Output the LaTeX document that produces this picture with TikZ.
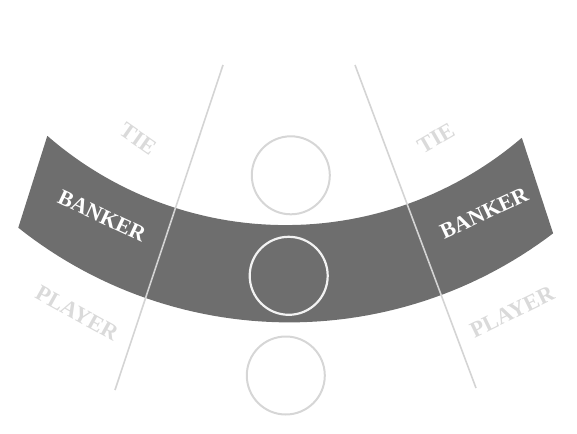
\documentclass[tikz,border=0pt]{standalone}
\usepackage{fontspec}
\setmainfont{Liberation Serif}
\begin{document}
\begin{tikzpicture}[x=1pt,y=-1pt,
  divider/.style={draw=divline,line width=1.6pt},
  spot/.style={circle,draw=spotline,line width=2pt,minimum size=78pt,inner sep=0pt},
  spotw/.style={circle,draw=spotwhite,line width=2.2pt,minimum size=78pt,inner sep=0pt},
  bank/.style={text=white,font=\fontsize{22}{25}\selectfont\bfseries},
  soft/.style={text=softtext,font=\fontsize{22.5}{25}\selectfont\bfseries}]
\definecolor{band}{HTML}{6E6E6E}
\definecolor{divline}{HTML}{D4D4D4}
\definecolor{spotline}{HTML}{D6D6D6}
\definecolor{spotwhite}{HTML}{F2F2F2}
\definecolor{softtext}{HTML}{DADADA}
\useasboundingbox (0,0) rectangle (577,433);
% band
\fill[band]
  plot[domain=131.05:49.42,samples=60] ({285.7+363*cos(\x)},{-137.9+363*sin(\x)})
  -- (553,233)
  -- plot[domain=52.68:128.51,samples=60] ({289.3+435.3*cos(\x)},{-112.9+435.3*sin(\x)})
  -- cycle;
% dividers
\coordinate (l1) at (223,65);
\coordinate (l2) at (115,390);
\coordinate (r1) at (355,65);
\coordinate (r2) at (476,388);
\draw[divider] (l1) -- (l2);
\draw[divider] (r1) -- (r2);
% circles
\node[spot] (ctop) at (290.8,175.3) {};
\node[spotw] (cmid) at (288.7,275.8) {};
\node[spot] (cbot) at (285.8,375.5) {};
% labels
\node[bank,rotate=-25] (bl) at (102,216) {BANKER};
\node[bank,rotate=25] (br) at (484,213) {BANKER};
\node[soft,rotate=-35] (tl) at (138,139) {TIE};
\node[soft,rotate=30] (tr) at (436,138) {TIE};
\node[soft,rotate=-29] (pl) at (77,313) {PLAYER};
\node[soft,rotate=26] (pr) at (512,312) {PLAYER};
\end{tikzpicture}
\end{document}
